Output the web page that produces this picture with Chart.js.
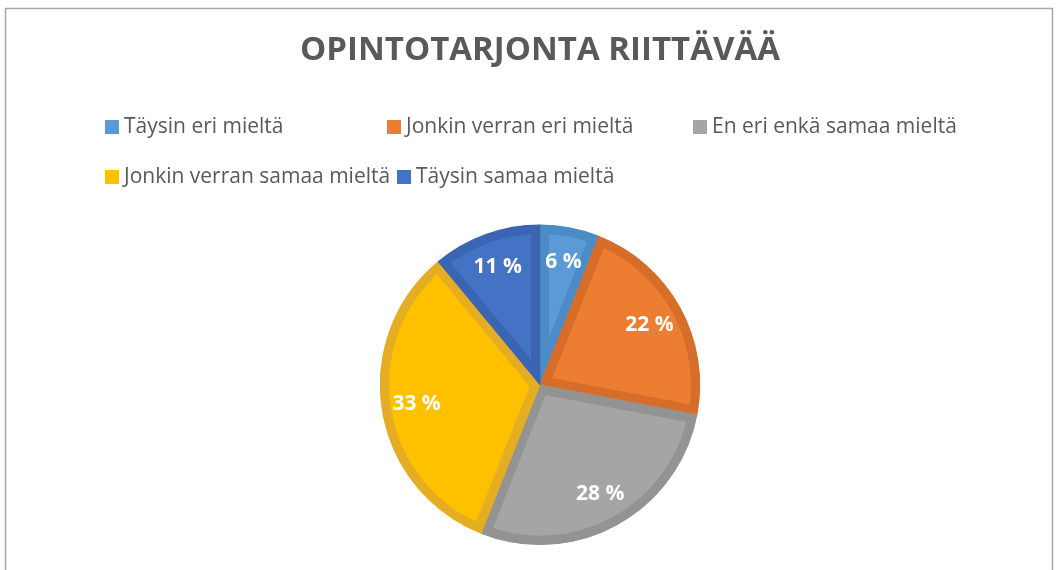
<!DOCTYPE html>
<html lang="fi">
<head>
<meta charset="UTF-8" />
<title>Opintotarjonta riittävää</title>
<script src="https://cdn.jsdelivr.net/npm/chart.js@4.4.0/dist/chart.umd.min.js"></script>
<style>
  html, body { margin: 0; padding: 0; background: #fff; }
  #wrap { width: 1057px; height: 570px; position: relative; }
</style>
</head>
<body>
<div id="wrap"><canvas id="myChart" width="1057" height="570"></canvas></div>
<script>
const chartTitle = 'OPINTOTARJONTA RIITTÄVÄÄ';
const categories = [
  'Täysin eri mieltä',
  'Jonkin verran eri mieltä',
  'En eri enkä samaa mieltä',
  'Jonkin verran samaa mieltä',
  'Täysin samaa mieltä'
];
const shares = [6, 22, 28, 33, 11];
const sliceColors = ['#5B9BD5', '#ED7D31', '#A5A5A5', '#FFC000', '#4472C4'];
const edgeColors = ['#4C8BC6', '#D66E29', '#939393', '#E5AD22', '#3B64B2'];

const textGrey = '#595959';

// frame + white background
const framePlugin = {
  id: 'frame',
  beforeDraw(chart) {
    const c = chart.ctx;
    c.save();
    c.fillStyle = '#fff';
    c.fillRect(0, 0, chart.width, chart.height);
    c.strokeStyle = '#a6a6a6';
    c.lineWidth = 1.5;
    c.strokeRect(5.5, 8.5, chart.width - 10, chart.height + 20);
    c.restore();
  }
};

// Excel-like legend, laid out in the gap under the title
const legendSlots = [[105, 127], [387, 127], [693, 127], [105, 177], [397, 177]];
const legendPlugin = {
  id: 'xlLegend',
  afterDraw(chart) {
    const c = chart.ctx;
    c.save();
    c.font = '21px "Open Sans", sans-serif';
    c.textBaseline = 'middle';
    c.textAlign = 'left';
    categories.forEach((name, i) => {
      const [x, y] = legendSlots[i];
      c.fillStyle = sliceColors[i];
      c.fillRect(x, y - 7, 14, 14);
      c.fillStyle = textGrey;
      c.fillText(name, x + 19, y);
    });
    c.restore();
  }
};

// percentage labels inside the slices
const pctPlugin = {
  id: 'pct',
  afterDatasetsDraw(chart) {
    const c = chart.ctx;
    const meta = chart.getDatasetMeta(0);
    c.save();
    c.font = 'bold 21px "Open Sans", sans-serif';
    c.fillStyle = '#fff';
    c.textAlign = 'center';
    c.textBaseline = 'middle';
    meta.data.forEach((arc, i) => {
      const p = arc.getProps(['x', 'y', 'startAngle', 'endAngle', 'outerRadius'], true);
      const mid = (p.startAngle + p.endAngle) / 2;
      const r = p.outerRadius * 0.78;
      c.fillText(shares[i] + ' %', p.x + Math.cos(mid) * r, p.y + Math.sin(mid) * r);
    });
    c.restore();
  }
};

new Chart(document.getElementById('myChart').getContext('2d'), {
  type: 'pie',
  data: {
    labels: categories,
    datasets: [{
      data: shares,
      backgroundColor: sliceColors,
      borderColor: edgeColors,
      borderWidth: 9,
      borderAlign: 'inner'
    }]
  },
  options: {
    responsive: false,
    animation: false,
    layout: { padding: { left: 23, right: 0, top: 0, bottom: 25 } },
    plugins: {
      legend: { display: false },
      tooltip: { enabled: false },
      title: {
        display: true,
        text: chartTitle,
        color: textGrey,
        font: { family: '"Open Sans", sans-serif', size: 33, weight: 'bold', lineHeight: 1.2 },
        padding: { top: 31, bottom: 154 }
      }
    }
  },
  plugins: [framePlugin, legendPlugin, pctPlugin]
});
</script>
</body>
</html>
